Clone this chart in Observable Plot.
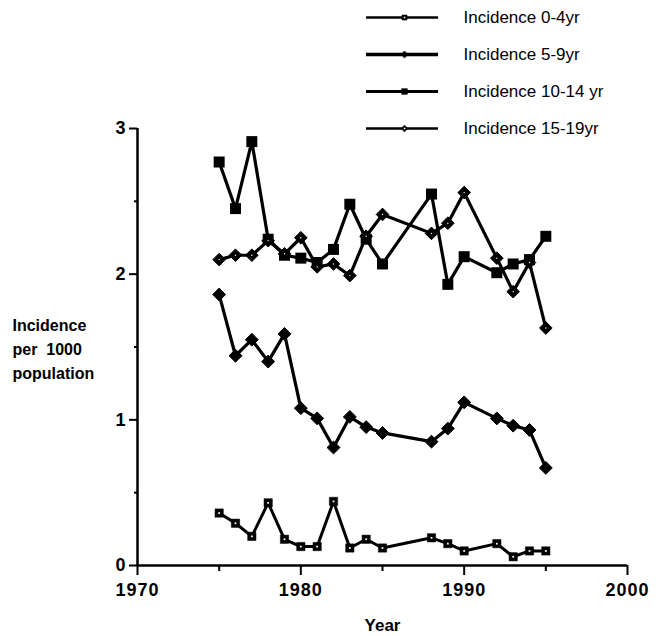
<!DOCTYPE html>
<html>
<head>
<meta charset="utf-8">
<script src="https://cdn.jsdelivr.net/npm/d3@7"></script>
<script src="https://cdn.jsdelivr.net/npm/@observablehq/plot@0.6"></script>
<style>
  html, body { margin: 0; padding: 0; background: white; }
  #wrap { position: relative; width: 661px; height: 636px; }
  #wrap svg { position: absolute; top: 0; left: 0; }
  .ticks text { letter-spacing: 1px; }
</style>
</head>
<body>
<div id="wrap"></div>
<script>
const years = [1975,1976,1977,1978,1979,1980,1981,1982,1983,1984,1985,1988,1989,1990,1992,1993,1994,1995];
const inc0_4   = [0.36,0.29,0.20,0.43,0.18,0.13,0.13,0.44,0.12,0.18,0.12,0.19,0.15,0.10,0.15,0.06,0.10,0.10];
const inc5_9   = [1.86,1.44,1.55,1.40,1.59,1.08,1.01,0.81,1.02,0.95,0.91,0.85,0.94,1.12,1.01,0.96,0.93,0.67];
const inc10_14 = [2.77,2.45,2.91,2.24,2.13,2.11,2.08,2.17,2.48,2.24,2.07,2.55,1.93,2.12,2.01,2.07,2.10,2.26];
const inc15_19 = [2.10,2.13,2.13,2.23,2.14,2.25,2.05,2.07,1.99,2.26,2.41,2.28,2.35,2.56,2.11,1.88,2.08,1.63];
const seriesNames = ["Incidence 0-4yr","Incidence 5-9yr","Incidence 10-14 yr","Incidence 15-19yr"];
const xMajor = [1970,1980,1990,2000];
const xMinor = [1975,1985,1995];
const yMajor = [0,1,2,3];
const yMinor = [0.5,1.5,2.5];

const mk = vals => years.map((y,i)=>({year:y, v:vals[i]}));
const s0 = mk(inc0_4), s1 = mk(inc5_9), s2 = mk(inc10_14), s3 = mk(inc15_19);

const font = "'Liberation Sans', Arial, Helvetica, sans-serif";

const chart = Plot.plot({
  width: 661, height: 636,
  marginLeft: 137, marginRight: 34, marginTop: 128, marginBottom: 71,
  style: {fontFamily: font, fontSize: "18px", fontWeight: "bold", background: "transparent", overflow: "visible", color: "black"},
  x: {domain: [1970, 2000]},
  y: {domain: [0, 3]},
  marks: [
    Plot.axisX(xMajor, {tickSize: 10, tickPadding: 8, strokeWidth: 2, tickFormat: d => String(d), fontSize: 18, fontWeight: "bold", label: null, className: "ticks"}),
    Plot.axisX(xMinor, {tickSize: 6, strokeWidth: 2, tickFormat: () => "", label: null}),
    Plot.axisY(yMajor, {tickSize: 8, tickPadding: 4, strokeWidth: 2, tickFormat: d => String(d), fontSize: 18, fontWeight: "bold", label: null}),
    Plot.axisY(yMinor, {tickSize: 3, strokeWidth: 2, tickFormat: () => "", label: null}),
    Plot.ruleY([0], {strokeWidth: 2.5}),
    Plot.ruleX([1970], {y1: 0, y2: 3, strokeWidth: 2.5}),

    Plot.line(s0, {x: "year", y: "v", stroke: "black", strokeWidth: 3}),
    Plot.line(s1, {x: "year", y: "v", stroke: "black", strokeWidth: 3.2}),
    Plot.line(s2, {x: "year", y: "v", stroke: "black", strokeWidth: 3.2}),
    Plot.line(s3, {x: "year", y: "v", stroke: "black", strokeWidth: 3.2}),

    Plot.dot(s0, {x: "year", y: "v", symbol: "square", r: 4.7, fill: "black", stroke: "black", strokeWidth: 0.5}),
    Plot.dot(s0, {x: "year", y: "v", symbol: "square", r: 1.0, fill: "white", stroke: "none"}),
    Plot.dot(s1, {x: "year", y: "v", symbol: "diamond2", r: 5.8, fill: "black", stroke: "black", strokeWidth: 1}),
    Plot.dot(s2, {x: "year", y: "v", symbol: "square", r: 6.2, fill: "black", stroke: "none"}),
    Plot.dot(s3, {x: "year", y: "v", symbol: "diamond2", r: 5.7, fill: "black", stroke: "black", strokeWidth: 1}),
    Plot.dot(s3, {x: "year", y: "v", symbol: "circle", r: 0.7, fill: "white", stroke: "none"}),

    Plot.text(["Year"], {frameAnchor: "bottom", dy: 60, fontSize: 17, fontWeight: "bold", lineAnchor: "middle"}),
    Plot.text(["Incidence\nper\u00a0\u00a01000\npopulation"], {frameAnchor: "left", dx: -125, textAnchor: "start", lineAnchor: "middle", lineHeight: 1.5, fontSize: 16, fontWeight: "bold"})
  ]
});

const legendMarker = [
  {name: seriesNames[0], symbol: "square", r: 4.4, w: 2.5},
  {name: seriesNames[1], symbol: "diamond2", r: 5.6, w: 3.5},
  {name: seriesNames[2], symbol: "square", r: 5.6, w: 3},
  {name: seriesNames[3], symbol: "diamond2", r: 5.0, w: 2.5}
];

const legend = Plot.plot({
  width: 661, height: 145, margin: 0,
  style: {fontFamily: font, fontSize: "17px", background: "transparent", overflow: "visible"},
  x: {domain: [0, 661], range: [0, 661], axis: null},
  y: {type: "point", domain: seriesNames, range: [16, 128], padding: 0, axis: null},
  marks: [
    Plot.ruleY(legendMarker, {y: "name", x1: 366, x2: 438, stroke: "black", strokeWidth: "w"}),
    Plot.dot(legendMarker, {y: "name", x: () => 404, symbol: "symbol", r: "r", fill: "black", stroke: "black", strokeWidth: 0.5}),
    Plot.dot(legendMarker.filter((d,i)=>i===0||i===3), {y: "name", x: () => 404, r: 0.9, fill: "white", stroke: "none", symbol: "square"}),
    Plot.text(legendMarker, {y: "name", x: () => 463, text: "name", textAnchor: "start", fontSize: 17, lineAnchor: "middle"})
  ]
});

document.getElementById("wrap").appendChild(chart);
document.getElementById("wrap").appendChild(legend);
</script>
</body>
</html>
